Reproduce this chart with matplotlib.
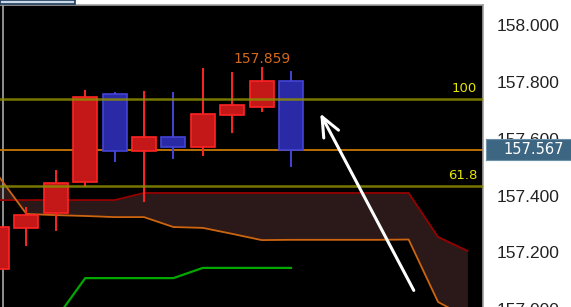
import matplotlib
matplotlib.use("Agg")
import matplotlib.pyplot as plt
from matplotlib.patches import Rectangle
import numpy as np

# candles: bar index, open, high, low, close  (red = up, blue = down)
idx = [0, 1, 2, 3, 4, 5, 6, 7, 8, 9, 10]
opn = [157.147, 157.292, 157.344, 157.454, 157.764, 157.563, 157.612, 157.577, 157.690, 157.718, 157.810]
high = [157.300, 157.366, 157.496, 157.778, 157.771, 157.774, 157.771, 157.856, 157.841, 157.859, 157.845]
low = [157.140, 157.228, 157.281, 157.436, 157.524, 157.383, 157.535, 157.545, 157.626, 157.700, 157.507]
close = [157.295, 157.337, 157.450, 157.753, 157.563, 157.612, 157.577, 157.693, 157.725, 157.810, 157.567]

# cloud spans
span_idx = list(range(17))
span_a = [157.390, 157.390, 157.390, 157.390, 157.390, 157.415, 157.415, 157.415, 157.415,
          157.415, 157.415, 157.415, 157.415, 157.415, 157.415, 157.260, 157.211]
span_b = [157.482, 157.341, 157.337, 157.334, 157.330, 157.330, 157.295, 157.292, 157.271,
          157.249, 157.250, 157.250, 157.250, 157.250, 157.251, 157.031, 156.975]

# lagging line
lag_idx = [2, 3, 4, 5, 6, 7, 8, 9, 10]
lag = [156.971, 157.115, 157.115, 157.115, 157.115, 157.151, 157.151, 157.151, 157.151]

fib_levels = [157.746, 157.440]
fib_labels = ["100", "61.8"]
last_price = 157.567
high_label = "157.859"
yticks = [158.0, 157.8, 157.6, 157.4, 157.2, 157.0]

NARROW = ["Liberation Sans Narrow", "DejaVu Sans"]

W, H = 571, 307
fig = plt.figure(figsize=(W / 100, H / 100), dpi=100, facecolor="white")
ax = fig.add_axes([0, 0, 483 / W, 302 / H])
ax.set_facecolor("black")
ax.set_xlim(0.102, 16.53)
ax.set_ylim(157.0132, 158.0775)
ax.set_xticks([])
ax.set_yticks([])
for s in ("left", "bottom"):
    ax.spines[s].set_visible(False)
for s in ("top", "right"):
    ax.spines[s].set_color("#a0a0a0")
    ax.spines[s].set_linewidth(1.2)

# period separator
ax.axvline(0.204, color="#9a9a9a", lw=1.3, zorder=2)

# cloud
ax.fill_between(span_idx, span_a, span_b, color="#2b1919", lw=0, zorder=1)
ax.plot(span_idx, span_a, color="#960000", lw=1.3, zorder=2)
ax.plot(span_idx, span_b, color="#cc6410", lw=1.3, zorder=2)
ax.plot(lag_idx, lag, color="#00a800", lw=1.6, zorder=2)

# current price line
ax.axhline(last_price, color="#c87800", lw=1.3, zorder=2)

# candles
o = np.array(opn); c = np.array(close)
up = c >= o
face = np.where(up, "#c41818", "#2a2aa6")
edge = np.where(up, "#ff2424", "#4444d8")
ax.vlines(idx, low, high, colors=edge, lw=1.4, zorder=3)
ax.bar(idx, np.abs(c - o), bottom=np.minimum(o, c), width=0.82,
       color=face, edgecolor=edge, linewidth=1.2, zorder=4)

# fibonacci levels
for lvl, lab in zip(fib_levels, fib_labels):
    ax.axhline(lvl, color="#8c8c00", lw=1.8, alpha=0.85, zorder=5)
    ax.annotate(lab, xy=(0.988, lvl), xycoords=("axes fraction", "data"),
                xytext=(0, 3), textcoords="offset points", ha="right", va="bottom",
                color="#e6e600", fontsize=9.5, family=NARROW)

# high label
gi = int(np.argmax(high))
ax.annotate(high_label, xy=(idx[gi], high[gi]), xytext=(0, 1), textcoords="offset points",
            ha="center", va="bottom", color="#d2691e", fontsize=10, family=NARROW)

# arrow
ax.annotate("", xy=(10.95, 157.704), xytext=(14.22, 157.063),
            arrowprops=dict(arrowstyle="->,head_length=0.7,head_width=0.3",
                            color="white", lw=2.2, mutation_scale=20), zorder=6)

# right price scale
for t in yticks:
    ax.text(1.0 + 14 / 483, t, f"{t:.3f}", transform=ax.get_yaxis_transform(),
            ha="left", va="center", fontsize=12.5, color="#222222",
            family="Liberation Sans", clip_on=False)

# current price box
bx = fig.add_axes([486 / W, (H - 160) / H, 85 / W, 21 / H])
bx.set_facecolor("#3d6682")
bx.set_xticks([]); bx.set_yticks([])
for s in bx.spines.values():
    s.set_color("#6c90a8")
bx.text(0.56, 0.5, f"{last_price:.3f}", ha="center", va="center", color="white",
        fontsize=10.5, family=NARROW, transform=bx.transAxes)

# partial panel at top-left
fig.patches.append(Rectangle((0, (H - 4) / H), 75 / W, 4 / H, transform=fig.transFigure,
                             facecolor="#c8d8e6", edgecolor="#1e3a5a", lw=1.2))

fig.savefig("out.png", dpi=100, facecolor="white")
